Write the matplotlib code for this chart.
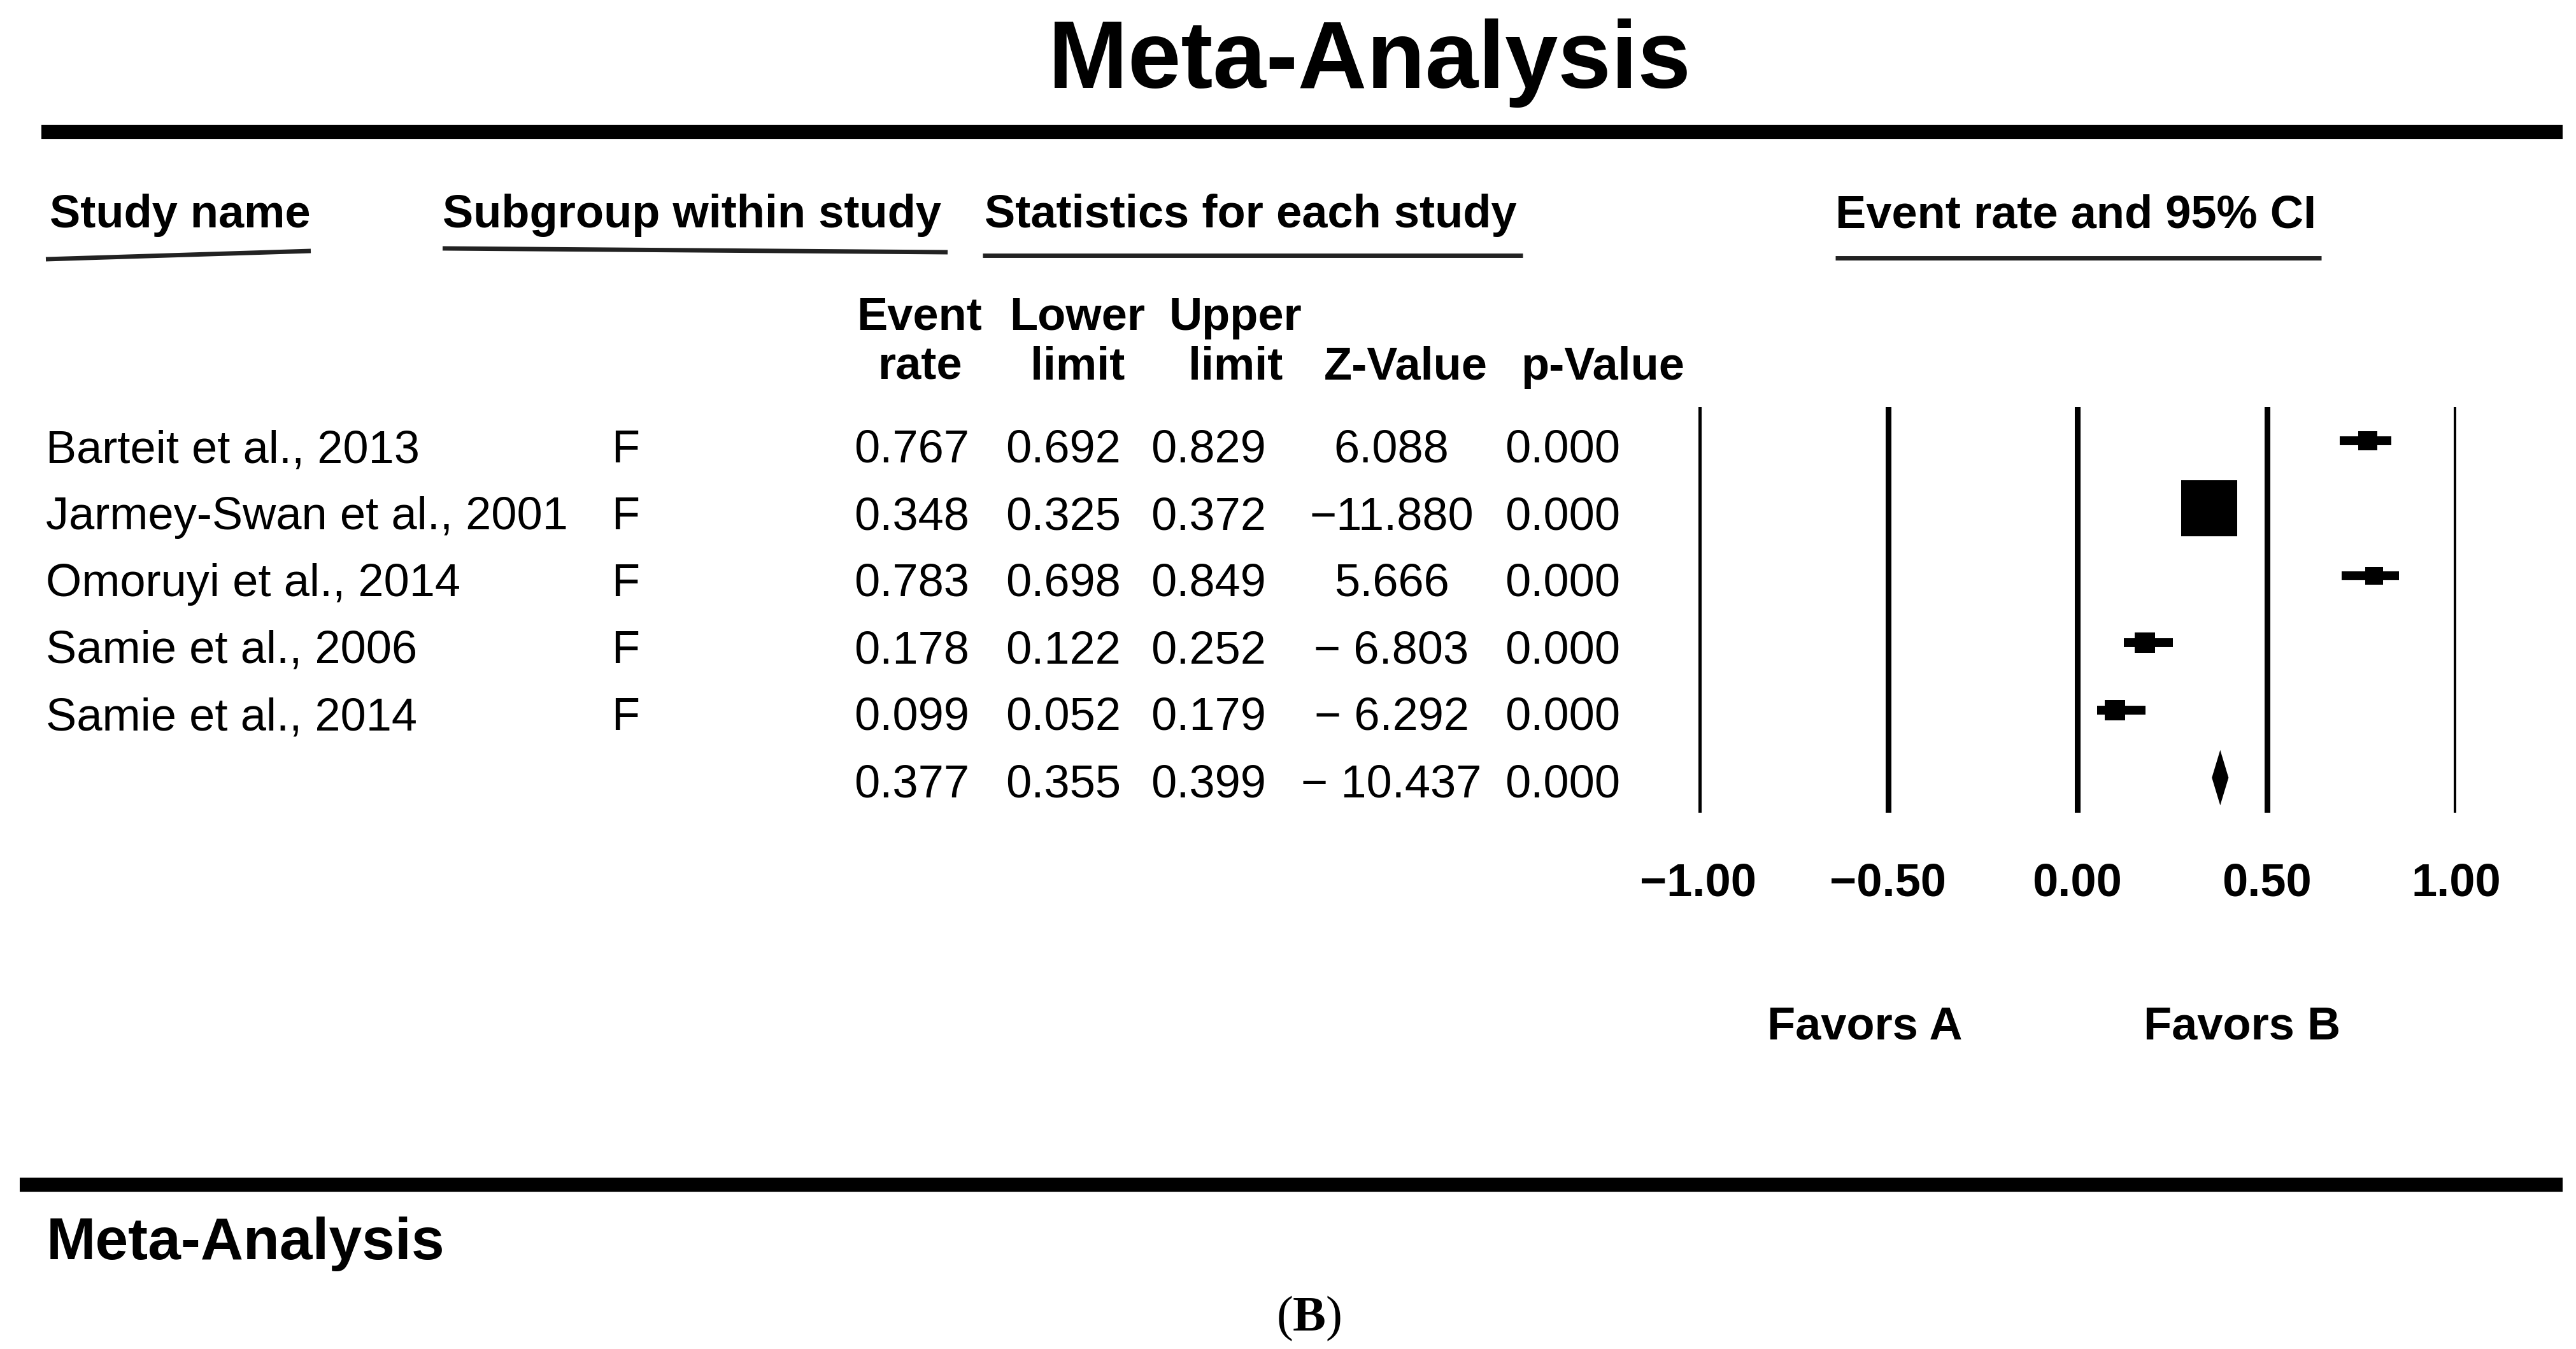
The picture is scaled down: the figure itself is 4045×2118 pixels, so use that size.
import matplotlib
matplotlib.use("Agg")
import matplotlib.pyplot as plt

plt.rcParams['font.family'] = ['Liberation Sans', 'DejaVu Sans']
plt.rcParams['mathtext.fontset'] = 'custom'
plt.rcParams['mathtext.bf'] = 'Liberation Serif:bold'
plt.rcParams['mathtext.rm'] = 'Liberation Serif'

# Data
studies = ["Barteit et al., 2013", "Jarmey-Swan et al., 2001", "Omoruyi et al., 2014",
           "Samie et al., 2006", "Samie et al., 2014"]
subgroups = ["F", "F", "F", "F", "F"]
event_rate = [0.767, 0.348, 0.783, 0.178, 0.099]
lower_limit = [0.692, 0.325, 0.698, 0.122, 0.052]
upper_limit = [0.829, 0.372, 0.849, 0.252, 0.179]
z_value = ["6.088", "\u221211.880", "5.666", "\u2212 6.803", "\u2212 6.292"]
p_value = [0.000, 0.000, 0.000, 0.000, 0.000]

pooled_rate = 0.377
pooled_lower = 0.355
pooled_upper = 0.399
pooled_z = "\u2212 10.437"
pooled_p = 0.000

x_ticks = [-1.0, -0.5, 0.0, 0.5, 1.0]

W, H = 4045, 2118
fig = plt.figure(figsize=(W / 100, H / 100), dpi=100)

# background axes in pixel coordinates for the table part
bg = fig.add_axes([0, 0, 1, 1])
bg.set_xlim(0, W)
bg.set_ylim(H, 0)
bg.axis('off')

fs = 52
bg.text(2150, 138, "Meta-Analysis", fontsize=108, fontweight='bold', ha='center', va='baseline')
bg.plot([65, 4024], [207, 207], color='black', lw=16, solid_capstyle='butt')

# section headers + underlines
headers = [("Study name", 78), ("Subgroup within study", 695),
           ("Statistics for each study", 1546), ("Event rate and 95% CI", 2882)]
for txt, x in headers:
    bg.text(x, 357, txt, fontsize=fs, fontweight='bold', ha='left', va='baseline')
bg.plot([72, 488], [407, 394], color='#222222', lw=5, solid_capstyle='butt')
bg.plot([695, 1488], [390, 396], color='#222222', lw=5, solid_capstyle='butt')
bg.plot([1543, 2391], [401, 401], color='#222222', lw=5, solid_capstyle='butt')
bg.plot([2882, 3645], [405, 405], color='#222222', lw=5, solid_capstyle='butt')

# column headers
col_heads = [("Event", "rate", 1444), ("Lower", "limit", 1692), ("Upper", "limit", 1940),
             ("", "Z-Value", 2207), ("", "p-Value", 2517)]
for top, bot, x in col_heads:
    if top:
        bg.text(x, 518, top, fontsize=fs, fontweight='bold', ha='center', va='baseline')
    bg.text(x, 596, bot, fontsize=fs, fontweight='bold', ha='center', va='baseline')

# table rows
row0, step = 726, 105
for i in range(len(studies)):
    y = row0 + i * step
    bg.text(72, y, studies[i], fontsize=fs, ha='left', va='baseline')
    bg.text(960, y, subgroups[i], fontsize=fs, ha='left', va='baseline')
    bg.text(1522, y, f"{event_rate[i]:.3f}", fontsize=fs, ha='right', va='baseline')
    bg.text(1760, y, f"{lower_limit[i]:.3f}", fontsize=fs, ha='right', va='baseline')
    bg.text(1988, y, f"{upper_limit[i]:.3f}", fontsize=fs, ha='right', va='baseline')
    bg.text(2185, y, z_value[i], fontsize=fs, ha='center', va='baseline')
    bg.text(2544, y, f"{p_value[i]:.3f}", fontsize=fs, ha='right', va='baseline')
y = row0 + len(studies) * step
bg.text(1522, y, f"{pooled_rate:.3f}", fontsize=fs, ha='right', va='baseline')
bg.text(1760, y, f"{pooled_lower:.3f}", fontsize=fs, ha='right', va='baseline')
bg.text(1988, y, f"{pooled_upper:.3f}", fontsize=fs, ha='right', va='baseline')
bg.text(2185, y, pooled_z, fontsize=fs, ha='center', va='baseline')
bg.text(2544, y, f"{pooled_p:.3f}", fontsize=fs, ha='right', va='baseline')

bg.text(2928, 1612, "Favors A", fontsize=fs, fontweight='bold', ha='center', va='center')
bg.text(3521, 1612, "Favors B", fontsize=fs, fontweight='bold', ha='center', va='center')

bg.plot([31, 4024], [1860, 1860], color='black', lw=16, solid_capstyle='butt')
bg.text(73, 1977, "Meta-Analysis", fontsize=67, fontweight='bold', ha='left', va='baseline')
bg.text(2055, 2070, r"($\mathbf{B}$)", fontsize=56, family='Liberation Serif',
        ha='center', va='center')

# forest plot
ax_left, ax_right = 2667, 3857
ax_top, ax_bot = 639, 1276
ax = fig.add_axes([ax_left / W, 1 - ax_bot / H, (ax_right - ax_left) / W, (ax_bot - ax_top) / H])
ax.set_xlim(-1, 1)
ax.set_ylim(5.52, -0.50)
for s in ax.spines.values():
    s.set_visible(False)
ax.patch.set_alpha(0)
for t in x_ticks:
    ax.axvline(t, color='black', lw=6.5)
ax.set_yticks([])
ax.set_xticks(x_ticks)
ax.set_xticklabels([f"{t:.2f}".replace('-', '\u2212') for t in x_ticks],
                   fontsize=fs, fontweight='bold')
ax.tick_params(axis='x', length=0, pad=56)
for lbl in ax.get_xticklabels():
    lbl.set_x(lbl.get_position()[0])

for i in range(len(studies)):
    ax.hlines(i, lower_limit[i], upper_limit[i], color='black', lw=10, capstyle='butt')
    side_px = 4.11 / (upper_limit[i] - lower_limit[i])
    ax.plot(event_rate[i], i, marker='s', ms=side_px * 0.72, mew=0, color='black')

k = len(studies)
h = 0.41
ax.fill([pooled_lower, pooled_rate, pooled_upper, pooled_rate],
        [k, k - h, k, k + h], color='black', lw=0)

fig.savefig("out.png", dpi=100)
